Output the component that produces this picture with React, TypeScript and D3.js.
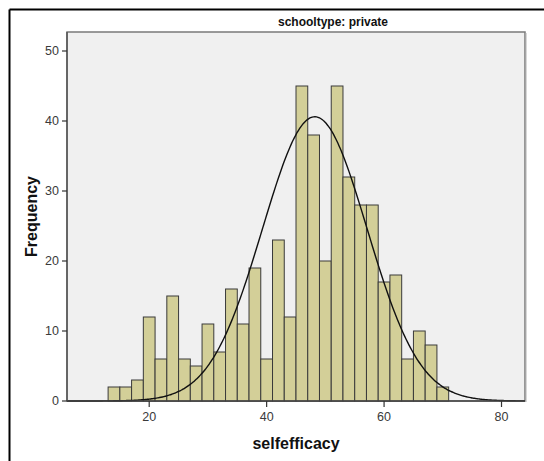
import React from "react";
import * as d3 from "d3";

// Histogram of selfefficacy for private schools, bins of width 2
const BIN_LOWER = [13, 15, 17, 19, 21, 23, 25, 27, 29, 31, 33, 35, 37, 39, 41, 43, 45, 47, 49, 51, 53, 55, 57, 59, 61, 63, 65, 67, 69];
const COUNTS = [2, 2, 3, 12, 6, 15, 6, 5, 11, 7, 16, 11, 19, 6, 23, 12, 45, 38, 20, 45, 32, 28, 28, 17, 18, 6, 10, 8, 2];
const BIN_WIDTH = 2;

// Fitted normal curve parameters
const MEAN = 48.2;
const SD = 8.9;

const X_TICKS = [20, 40, 60, 80];
const Y_TICKS = [0, 10, 20, 30, 40, 50];

const TITLE = "schooltype: private";
const X_LABEL = "selfefficacy";
const Y_LABEL = "Frequency";

const W = 544;
const H = 461;
const plot = { left: 67, right: 525, top: 32, bottom: 401 };
const FONT = "'Liberation Sans', Arial, sans-serif";

export default function App() {
  const x = d3.scaleLinear().domain([6, 84]).range([plot.left, plot.right]);
  const y = d3.scaleLinear().domain([0, 52.714]).range([plot.bottom, plot.top]);

  const n = d3.sum(COUNTS);
  const curvePts = d3.range(6, 84.01, 0.25);
  const density = (v: number) =>
    (n * BIN_WIDTH) / (SD * Math.sqrt(2 * Math.PI)) * Math.exp(-0.5 * ((v - MEAN) / SD) ** 2);
  const line = d3
    .line<number>()
    .x((v) => x(v))
    .y((v) => y(density(v)))
    .curve(d3.curveBasis);

  return (
    <svg
      width={W}
      height={H}
      style={{ position: "absolute", left: 0, top: 0, background: "#fff" }}
    >
      {/* outer frame */}
      <line x1={9.5} y1={9.5} x2={W} y2={9.5} stroke="#000" strokeWidth={2} />
      <line x1={9.5} y1={9.5} x2={9.5} y2={H} stroke="#000" strokeWidth={2} />

      <text
        x={333}
        y={26}
        textAnchor="middle"
        fontFamily={FONT}
        fontWeight="bold"
        fontSize={12}
        fill="#111"
      >
        {TITLE}
      </text>

      {/* plot area */}
      <rect
        x={plot.left}
        y={plot.top}
        width={plot.right - plot.left}
        height={plot.bottom - plot.top}
        fill="#f0f0f0"
        stroke="#7a7a7a"
        strokeWidth={1.5}
      />
      <line x1={plot.right + 1} y1={plot.top + 1} x2={plot.right + 1} y2={plot.bottom + 1} stroke="#b0b0b0" strokeWidth={1} />

      {/* bars */}
      {BIN_LOWER.map((lo, i) => (
        <rect
          key={lo}
          x={x(lo)}
          y={y(COUNTS[i])}
          width={x(lo + BIN_WIDTH) - x(lo)}
          height={y(0) - y(COUNTS[i])}
          fill="#d3cf98"
          stroke="#3a3a3a"
          strokeWidth={1}
        />
      ))}

      {/* normal curve */}
      <path d={line(curvePts) || ""} fill="none" stroke="#111" strokeWidth={1.4} />

      {/* axes */}
      <line x1={plot.left} y1={plot.top} x2={plot.left} y2={plot.bottom} stroke="#555" strokeWidth={1.5} />
      <line x1={plot.left} y1={plot.bottom} x2={plot.right} y2={plot.bottom} stroke="#444" strokeWidth={1.5} />

      {Y_TICKS.map((t) => (
        <g key={t}>
          <line x1={plot.left - 5} x2={plot.left} y1={y(t)} y2={y(t)} stroke="#333" strokeWidth={1.2} />
          <text
            x={plot.left - 8}
            y={y(t)}
            dy="0.35em"
            textAnchor="end"
            fontFamily={FONT}
            fontSize={12.5}
            fill="#3a3a3a"
          >
            {t}
          </text>
        </g>
      ))}

      {X_TICKS.map((t) => (
        <g key={t}>
          <line x1={x(t)} x2={x(t)} y1={plot.bottom} y2={plot.bottom + 6} stroke="#333" strokeWidth={1.2} />
          <text
            x={x(t)}
            y={421}
            textAnchor="middle"
            fontFamily={FONT}
            fontSize={12.5}
            fill="#3a3a3a"
          >
            {t}
          </text>
        </g>
      ))}

      <text
        x={(plot.left + plot.right) / 2}
        y={449}
        textAnchor="middle"
        fontFamily={FONT}
        fontWeight="bold"
        fontSize={16}
        fill="#111"
      >
        {X_LABEL}
      </text>
      <text
        transform={`translate(37, ${(plot.top + plot.bottom) / 2}) rotate(-90)`}
        textAnchor="middle"
        fontFamily={FONT}
        fontWeight="bold"
        fontSize={16}
        fill="#111"
      >
        {Y_LABEL}
      </text>
    </svg>
  );
}
